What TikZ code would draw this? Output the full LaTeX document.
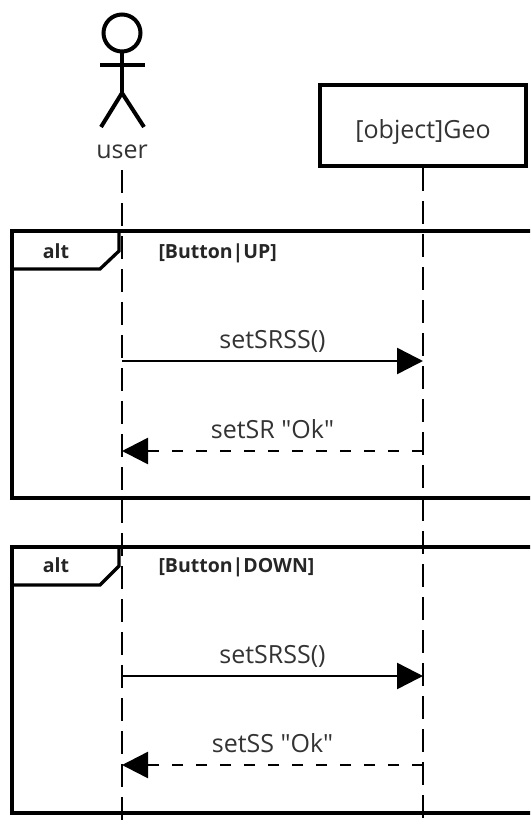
\documentclass[tikz,border=0pt]{standalone}
\usepackage{fontspec}
\setmainfont{Open Sans}
\usepackage{tikz}
\usetikzlibrary{arrows.meta,positioning}
\tikzstyle{txt} = [font=\fontsize{25}{30}\selectfont, text=black!80]
\tikzstyle{guard} = [font=\bfseries\fontsize{19.5}{24}\selectfont, text=black!85, anchor=base]
\tikzstyle{objbox} = [draw=black, line width=4pt, rectangle, minimum width=206pt, minimum height=81pt, inner sep=0pt, text height=27pt, text depth=0pt]
\tikzstyle{actor} = [line width=4pt]
\tikzstyle{lifeline} = [line width=2.5pt, dash pattern=on 23pt off 10pt]
\tikzstyle{frame} = [draw=black, line width=3.3pt]
\tikzstyle{call} = [line width=2.5pt, -{Triangle[length=26pt,width=26pt]}]
\tikzstyle{reply} = [call, dash pattern=on 11pt off 13pt]
\tikzstyle{msg} = [txt, anchor=base, yshift=13pt]

\begin{document}
\begin{tikzpicture}[x=1pt, y=-1pt]
\useasboundingbox (0,0) rectangle (530,824);
\clip (0,0) rectangle (530,824);

% actor
\node[circle, draw, line width=4pt, minimum size=37pt, inner sep=0pt] (head) at (122,33) {};
\draw[actor] (head.south) -- (122,93) coordinate (hip);
\draw[actor] (100,65) -- (145,65);
\draw[actor] (101,127) -- (hip) -- (144,127);
\node[txt, anchor=base] (user) at (122,158) {user};

% object
\node[objbox, txt] (geo) at (423,125.5) {[object]Geo};

% lifelines
\coordinate (userend) at (122,830);
\coordinate (geoend) at (423,830);
\draw[lifeline] ([yshift=-8pt]user.south) -- (userend);
\draw[lifeline] (geo.south) -- (geoend);

% first alt
\draw[frame] (545,231) -- (12,231) -- (12,498) -- (545,498);
\draw[frame] (119,231) -- (119,251) -- (100,269) -- (12,269);
\node[guard] (alt1) at (56,258) {alt};
\node[guard, anchor=base west] (cond1) at (155,258) {[Button|UP]};

\coordinate (u1) at (122,361);
\coordinate (g1) at (423,361);
\coordinate (u2) at (122,451);
\coordinate (g2) at (423,451);
\draw[call] (u1) -- node[msg] (m1) {setSRSS()} (g1);
\draw[reply] (g2) -- node[msg] (r1) {setSR \textquotedbl Ok\textquotedbl} (u2);

% second alt
\draw[frame] (545,547) -- (12,547) -- (12,813) -- (545,813);
\draw[frame] (119,547) -- (119,566) -- (100,585) -- (12,585);
\node[guard] (alt2) at (56,572) {alt};
\node[guard, anchor=base west] (cond2) at (155,572) {[Button|DOWN]};

\coordinate (u3) at (122,676);
\coordinate (g3) at (423,676);
\coordinate (u4) at (122,765);
\coordinate (g4) at (423,765);
\draw[call] (u3) -- node[msg] (m2) {setSRSS()} (g3);
\draw[reply] (g4) -- node[msg] (r2) {setSS \textquotedbl Ok\textquotedbl} (u4);
\end{tikzpicture}
\end{document}
